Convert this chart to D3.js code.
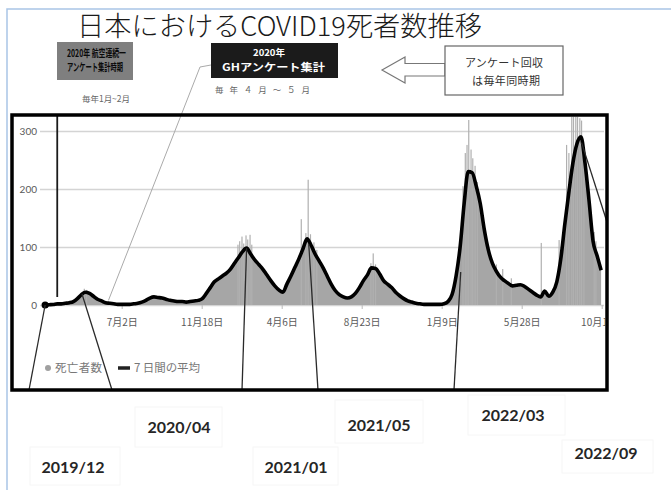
<!DOCTYPE html>
<html>
<head>
<meta charset="utf-8">
<script src="https://cdn.jsdelivr.net/npm/d3@7"></script>
<style>
  html, body { margin: 0; padding: 0; background: #fff; }
  svg { display: block; }
</style>
</head>
<body>
<svg id="chart" width="671" height="490"></svg>
<script>
// ---- data -------------------------------------------------------------
// 7-day average of reported COVID-19 deaths in Japan, one value per week
const firstWeek = "2020-02-20";
const avgDeaths = [
  0, 0.5, 1, 2, 2, 3, 4, 6, 11, 18,
  22, 20, 15, 10, 7, 4, 3, 2, 1, 1,
  1, 1, 2, 3, 5, 8, 12, 14, 13, 12,
  10, 8, 7, 6, 6, 5, 6, 7, 8, 11,
  20, 30, 40, 45, 50, 55, 62, 72, 82, 92,
  98, 88, 78, 70, 62, 52, 42, 33, 26, 22,
  36, 50, 65, 80, 97, 114, 103, 88, 76, 64,
  50, 36, 25, 18, 14, 12, 14, 20, 30, 42,
  52, 64, 63, 54, 42, 36, 30, 22, 16, 11,
  7, 5, 3, 2, 1, 1, 1, 1, 1, 2,
  6, 18, 50, 100, 175, 230, 228, 205, 175, 130,
  95, 72, 58, 48, 42, 37, 33, 34, 35, 32,
  27, 22, 17, 14, 24, 15, 22, 40, 80, 140,
  195, 245, 278, 290, 245, 180, 110, 85, 60
];

// individual days whose reported count stands out above the average
const dailySpikes = [
  ["2020-04-28", 28], ["2020-05-02", 26],
  ["2021-01-20", 104], ["2021-01-23", 110], ["2021-01-27", 118], ["2021-01-30", 106],
  ["2021-02-03", 120], ["2021-02-06", 113], ["2021-02-10", 121], ["2021-02-13", 104],
  ["2021-05-10", 148], ["2021-05-18", 124], ["2021-05-22", 216], ["2021-05-26", 122],
  ["2021-06-01", 108], ["2021-06-06", 95],
  ["2021-09-08", 72], ["2021-09-12", 89], ["2021-09-16", 70],
  ["2022-02-15", 205], ["2022-02-19", 262], ["2022-02-22", 276], ["2022-02-25", 319],
  ["2022-03-01", 268], ["2022-03-04", 253], ["2022-03-08", 240], ["2022-03-12", 212],
  ["2022-04-14", 70], ["2022-04-25", 62], ["2022-05-10", 46],
  ["2022-07-01", 107], ["2022-08-01", 112],
  ["2022-08-14", 276], ["2022-08-18", 262], ["2022-08-23", 343], ["2022-08-26", 330],
  ["2022-08-30", 347], ["2022-09-02", 335], ["2022-09-06", 322], ["2022-09-09", 318],
  ["2022-09-13", 268], ["2022-10-01", 126], ["2022-10-04", 110]
];

const yTicks = [0, 100, 200, 300];
const xTickDates = ["2020-07-02", "2020-11-18", "2021-04-06", "2021-08-23", "2022-01-09", "2022-05-28", "2022-10-14"];
const xTickLabels = ["7月2日", "11月18日", "4月6日", "8月23日", "1月9日", "5月28日", "10月14日"];

// survey periods marked under the chart, each pointing at a day on the curve
const periodLabels = ["2019/12", "2020/04", "2021/01", "2021/05", "2022/03", "2022/09"];
const periodTargets = [["2020-02-20", 0], ["2020-04-24", 19], ["2021-02-04", 98], ["2021-05-23", 105], ["2022-02-11", 57], ["2022-09-09", 280]];

// ---- layout -----------------------------------------------------------
const parse = d3.utcParse("%Y-%m-%d");
const svg = d3.select("#chart");
const FRAME = { x0: 12, y0: 115, x1: 607, y1: 390 };
const cjk = "'Noto Sans CJK JP', 'Noto Sans', sans-serif";
const latin = "Lato, 'Open Sans', 'Liberation Sans', sans-serif";

const x = d3.scaleUtc()
  .domain([parse("2020-07-02"), parse("2022-10-14")])
  .range([121.7, 601.7]);
const y = d3.scaleLinear().domain([0, 300]).range([305, 131]);

const start = parse(firstWeek);
const weekly = avgDeaths.map((v, i) => ({ date: d3.utcDay.offset(start, 7 * i), value: v }));
const spikes = dailySpikes.map(([d, v]) => ({ date: parse(d), value: v }));

// slide border
svg.append("path")
  .attr("d", "M7,490 L7,9 L671,9")
  .attr("fill", "none").attr("stroke", "#a9c5e6").attr("stroke-width", 1.5);

// title
svg.append("text")
  .attr("x", 77).attr("y", 36)
  .attr("textLength", 405).attr("lengthAdjust", "spacingAndGlyphs")
  .style("font-family", cjk).style("font-size", "27px").style("font-weight", 300)
  .attr("fill", "#1a1a1a")
  .text("日本におけるCOVID19死者数推移");

// grey survey box
svg.append("rect").attr("x", 57).attr("y", 42).attr("width", 76).attr("height", 38).attr("fill", "#7f7f7f");
svg.append("text").attr("x", 67).attr("y", 57).attr("textLength", 59).attr("lengthAdjust", "spacingAndGlyphs")
  .style("font-family", cjk).style("font-size", "10.5px").style("font-weight", 700).attr("fill", "#0a0a0a")
  .text("2020年  航空連続一");
svg.append("text").attr("x", 67).attr("y", 70.5).attr("textLength", 56).attr("lengthAdjust", "spacingAndGlyphs")
  .style("font-family", cjk).style("font-size", "10.5px").style("font-weight", 700).attr("fill", "#0a0a0a")
  .text("アンケート集計時期");
svg.append("text").attr("x", 106).attr("y", 101.5).attr("text-anchor", "middle").attr("textLength", 48)
  .style("font-family", cjk).style("font-size", "8.5px").attr("fill", "#666")
  .text("毎年1月~2月");

// black survey box
svg.append("rect").attr("x", 211).attr("y", 43).attr("width", 127).attr("height", 35).attr("fill", "#1b1b1b");
svg.append("text").attr("x", 269).attr("y", 56).attr("text-anchor", "middle")
  .style("font-family", cjk).style("font-size", "9.5px").style("font-weight", 700).attr("fill", "#fff")
  .text("2020年");
svg.append("text").attr("x", 273.5).attr("y", 71).attr("text-anchor", "middle").attr("textLength", 103).attr("lengthAdjust", "spacingAndGlyphs")
  .style("font-family", cjk).style("font-size", "10.5px").style("font-weight", 700).attr("fill", "#fff")
  .text("GHアンケート集計");
svg.append("text").attr("x", 262.5).attr("y", 93).attr("text-anchor", "middle").attr("textLength", 95)
  .style("font-family", cjk).style("font-size", "8.5px").attr("fill", "#666")
  .text("毎年４月～５月");

// callout with arrow
svg.append("polygon")
  .attr("points", "382,70 405,57 405,63.5 445,63.5 445,76 405,76 405,83")
  .attr("fill", "#fff").attr("stroke", "#777").attr("stroke-width", 1.2);
svg.append("rect").attr("x", 445).attr("y", 46).attr("width", 118).attr("height", 49)
  .attr("fill", "#fff").attr("stroke", "#666").attr("stroke-width", 1.2);
svg.append("text").attr("x", 504).attr("y", 67).attr("text-anchor", "middle").attr("textLength", 78)
  .style("font-family", cjk).style("font-size", "11px").attr("fill", "#333")
  .text("アンケート回収");
svg.append("text").attr("x", 506).attr("y", 85).attr("text-anchor", "middle").attr("textLength", 68)
  .style("font-family", cjk).style("font-size", "11px").attr("fill", "#333")
  .text("は毎年同時期");

// ---- chart ------------------------------------------------------------
const defs = svg.append("defs");
defs.append("clipPath").attr("id", "plot-clip").append("rect")
  .attr("x", FRAME.x0 + 1.75).attr("y", FRAME.y0 + 1.75)
  .attr("width", FRAME.x1 - FRAME.x0 - 3.5).attr("height", FRAME.y1 - FRAME.y0 - 3.5);

// y gridlines and labels
const yAxis = svg.append("g").attr("transform", "translate(40,0)")
  .call(d3.axisLeft(y).tickValues(yTicks).tickSize(-564).tickPadding(3));
yAxis.select(".domain").remove();
yAxis.selectAll("line").attr("stroke", "#d4d4d4").attr("stroke-width", 1.5);
yAxis.selectAll("text").attr("fill", "#5a5a5a")
  .style("font-family", latin).style("font-size", "10px");

// x axis (clipped at the frame so the last label is cut off)
const xAxis = svg.append("g").attr("clip-path", "url(#plot-clip)")
  .append("g").attr("transform", "translate(0,305)")
  .call(d3.axisBottom(x).tickValues(xTickDates.map(parse))
    .tickFormat((d, i) => xTickLabels[i]).tickSize(4).tickPadding(8));
xAxis.select(".domain").remove();
xAxis.selectAll("line").attr("stroke", "#bbb");
xAxis.selectAll("text").attr("y", 21).attr("dy", null).attr("fill", "#5a5a5a")
  .style("font-family", cjk).style("font-size", "10px");

const plot = svg.append("g").attr("clip-path", "url(#plot-clip)");

// daily deaths (grey)
plot.append("path").datum(weekly)
  .attr("d", d3.area().x(d => x(d.date)).y0(y(0)).y1(d => y(d.value)).curve(d3.curveMonotoneX))
  .attr("fill", "#a6a6a6");
plot.selectAll("rect.spike").data(spikes).join("rect")
  .attr("class", "spike")
  .attr("x", d => x(d.date) - 0.6).attr("width", 1.2)
  .attr("y", d => y(d.value)).attr("height", d => y(0) - y(d.value))
  .attr("fill", "#b0b0b0");

// 7-day average (black)
plot.append("path").datum(weekly)
  .attr("d", d3.line().x(d => x(d.date)).y(d => y(d.value)).curve(d3.curveMonotoneX))
  .attr("fill", "none").attr("stroke", "#000").attr("stroke-width", 3.6)
  .attr("stroke-linejoin", "round");
plot.append("circle")
  .attr("cx", x(weekly[0].date)).attr("cy", y(weekly[0].value)).attr("r", 3.6).attr("fill", "#000");

// legend
svg.append("circle").attr("cx", 48).attr("cy", 368).attr("r", 3).attr("fill", "#a0a0a0");
svg.append("text").attr("x", 55).attr("y", 372).attr("textLength", 47)
  .style("font-family", cjk).style("font-size", "11.5px").attr("fill", "#777").text("死亡者数");
svg.append("line").attr("x1", 118).attr("x2", 130).attr("y1", 368).attr("y2", 368)
  .attr("stroke", "#222").attr("stroke-width", 3.5);
svg.append("text").attr("x", 134).attr("y", 372).attr("textLength", 66)
  .style("font-family", cjk).style("font-size", "11.5px").attr("fill", "#777").text("7 日間の平均");

// ---- annotations ------------------------------------------------------
const ann = svg.append("g").attr("stroke", "#2a2a2a").attr("stroke-width", 1.3).attr("fill", "none");
// start of the Jan–Feb survey period
ann.append("line").attr("x1", x(parse("2020-03-12"))).attr("x2", x(parse("2020-03-12")))
  .attr("y1", FRAME.y0).attr("y2", 297)
  .attr("stroke", "#1a1a1a").attr("stroke-width", 1.8);
// connector from the GH survey box
svg.append("polyline")
  .attr("points", `211,65 200,67 ${x(parse("2020-06-09"))},${y(8)}`)
  .attr("fill", "none").attr("stroke", "#aaa").attr("stroke-width", 1);

// period connectors: bottom / right end on the frame, other end on the curve
const periodAnchors = [[29, FRAME.y1], [112, FRAME.y1], [242, FRAME.y1], [318, FRAME.y1], [454, FRAME.y1], [FRAME.x1, 222]];
periodTargets.forEach(([d, v], i) => {
  ann.append("line")
    .attr("x1", periodAnchors[i][0]).attr("y1", periodAnchors[i][1])
    .attr("x2", x(parse(d))).attr("y2", y(v));
});

// frame
svg.append("rect")
  .attr("x", FRAME.x0).attr("y", FRAME.y0)
  .attr("width", FRAME.x1 - FRAME.x0).attr("height", FRAME.y1 - FRAME.y0)
  .attr("fill", "none").attr("stroke", "#000").attr("stroke-width", 3.5);

// period labels under the chart
const labelPos = [[73, 467], [179, 427], [296, 467], [379, 425], [513, 415], [606, 453]];
const labelBoxes = [[30, 447, 90, 38], [135, 407, 87, 40], [253, 447, 85, 38], [335, 400, 88, 43], [468, 395, 97, 40], [562, 440, 91, 33]];
svg.selectAll("rect.lbl-box").data(labelBoxes).join("rect")
  .attr("class", "lbl-box")
  .attr("x", d => d[0]).attr("y", d => d[1]).attr("width", d => d[2]).attr("height", d => d[3])
  .attr("fill", "none").attr("stroke", "#f6f6f6").attr("stroke-width", 1);
svg.selectAll("text.period").data(periodLabels).join("text")
  .attr("class", "period")
  .attr("x", (d, i) => labelPos[i][0]).attr("y", (d, i) => labelPos[i][1] + 6)
  .attr("text-anchor", "middle")
  .style("font-family", latin).style("font-size", "16px").style("font-weight", 700)
  .attr("fill", "#262626")
  .text(d => d);
</script>
</body>
</html>
